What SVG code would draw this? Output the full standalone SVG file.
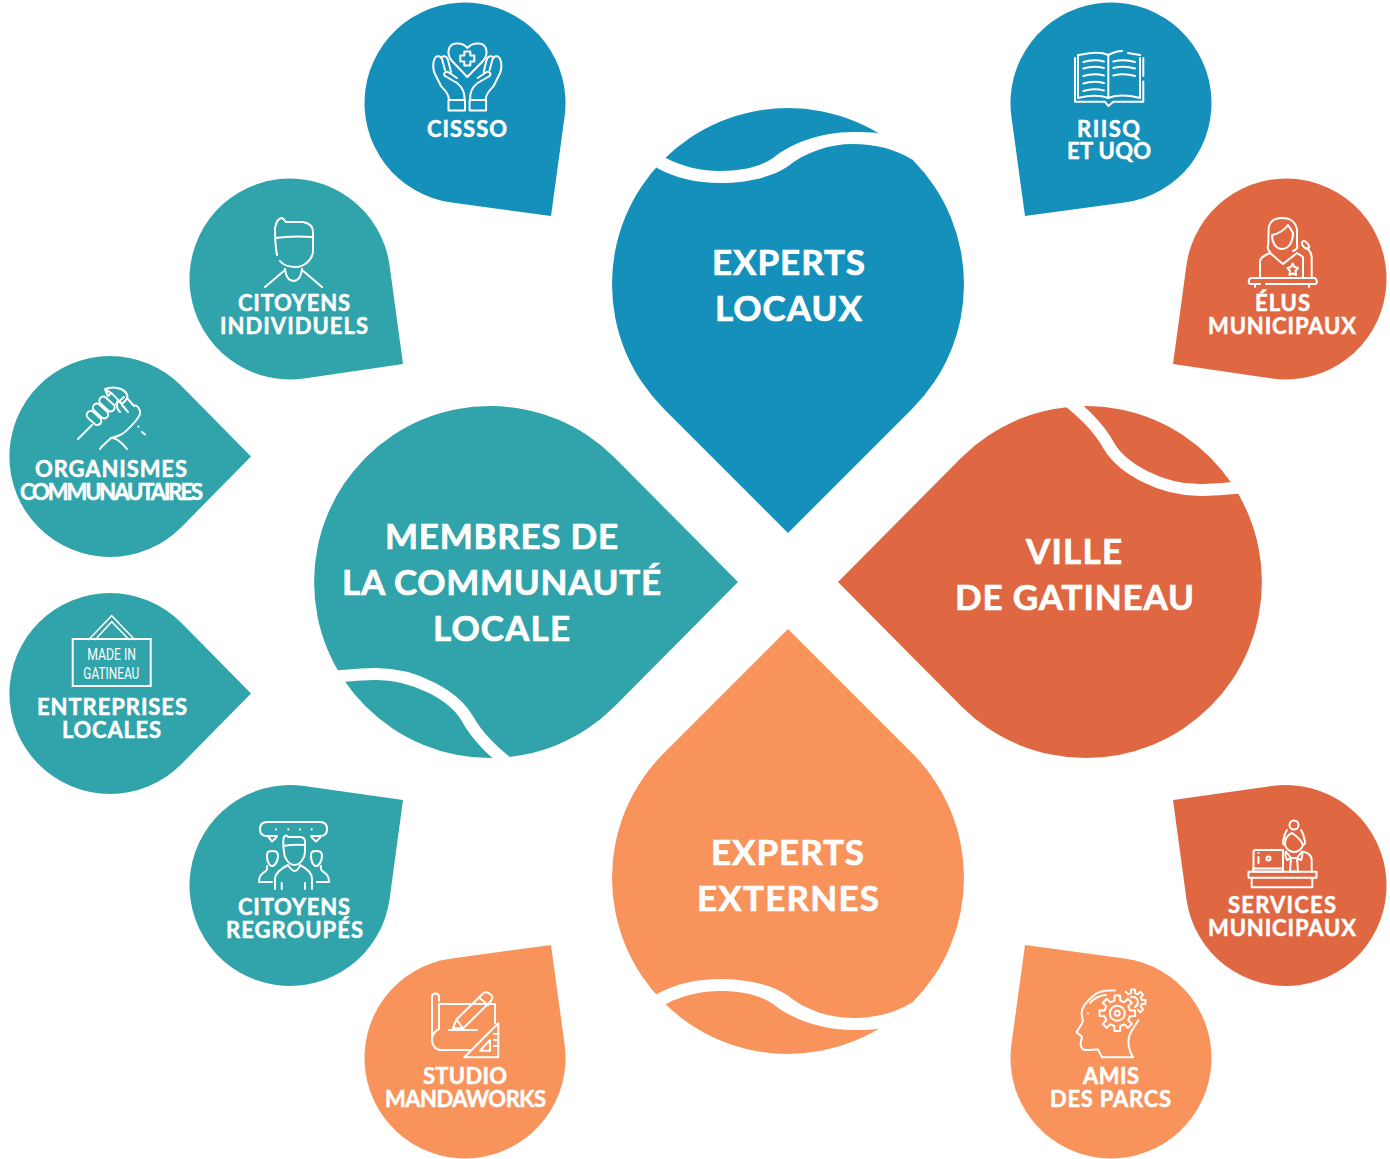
<svg xmlns="http://www.w3.org/2000/svg" width="1390" height="1159" viewBox="0 0 1390 1159">
<style>
.blue{fill:#1490bb}.teal{fill:#31a3aa}.red{fill:#df6842}.org{fill:#f8935c}
text{font-family:"Lato","Liberation Sans",sans-serif;font-weight:700;fill:#fff}
.big{font-size:35px;stroke:#fff;stroke-width:.7}
.sm{font-size:22px;stroke:#fff;stroke-width:.5}
.nar{font-family:"Liberation Sans Narrow","Roboto","Liberation Sans",sans-serif;font-weight:400;font-size:16.500px}
.sw{fill:none;stroke:#fff;stroke-width:12}
.swf{fill:#fff}
.ic{fill:none;stroke:#fff;stroke-width:2;stroke-linecap:round;stroke-linejoin:round}
</style>
<defs>
<path id="gear" d="M12.67-2.92L17.78-2.82L17.78 2.82L12.67 2.92L11.02 6.89L14.56 10.58L10.58 14.56L6.89 11.02L2.92 12.67L2.82 17.78L-2.82 17.78L-2.92 12.67L-6.89 11.02L-10.58 14.56L-14.56 10.58L-11.02 6.89L-12.67 2.92L-17.78 2.82L-17.78-2.82L-12.67-2.92L-11.02-6.89L-14.56-10.58L-10.58-14.56L-6.89-11.02L-2.92-12.67L-2.82-17.78L2.82-17.78L2.92-12.67L6.89-11.02L10.58-14.56L14.56-10.58L11.02-6.89Z"/>
<path id="hand" d="M449 100C449 93 444 90 441 86L435 74C433 70 433 66 433.500 62L435 58C437 55 441 56 442 59L445 70M441 58C443 55 447 56 448 60L451 72M445 76L457 83C461 86 465 90 464.500 100M445 76C443 74 445 71 448 72L457 78M448.500 100H465V110.500H448.500Z"/>
</defs>
<g id="connectors"></g>

<g id="experts-locaux">
<path class="blue" d="M788 533L664 409A176 176 0 1 1 912 409Z"/>
<path class="swf" d="M666 158C683 167 702 171 720 171C742 171 760 167 773 158C790 144 820 132 853 132C862 132 870 132 878 133L920 150L912 159.500C895 149 875 144 853 144C830 144 805 152 787 167C770 178 745 183 720 183C697 183 675 178 657 168L650 160Z"/>
<text class="big" x="712" y="275" textLength="153">EXPERTS</text>
<text class="big" x="715" y="321" textLength="147">LOCAUX</text>
</g>
<g id="membres-communaute">
<path class="teal" d="M738 582L615 706A176 176 0 1 1 615 458Z"/>
<path class="sw" d="M331 677C351 675 361 674 376 674C416 674 454 696 467 718C478 738 494 752 511 766"/>
<text class="big" x="385" y="549" textLength="233">MEMBRES DE</text>
<text class="big" x="342" y="595" textLength="319">LA COMMUNAUTÉ</text>
<text class="big" x="433" y="641" textLength="137">LOCALE</text>
</g>
<g id="ville-gatineau">
<path class="red" d="M838 582L961 458A176 176 0 1 1 961 706Z"/>
<path class="sw" d="M1065 398C1082 412 1098 426 1109 446C1122 468 1160 490 1200 490C1215 490 1225 489 1245 487"/>
<text class="big" x="1026" y="564" textLength="96">VILLE</text>
<text class="big" x="955" y="610" textLength="239">DE GATINEAU</text>
</g>
<g id="experts-externes">
<path class="org" d="M788 629L664 753A176 176 0 1 0 912 753Z"/>
<path class="swf" d="M666 1004C683 995 702 991 720 991C742 991 760 995 773 1004C790 1018 820 1030 853 1030C862 1030 870 1030 878 1029L920 1012L912 1002.500C895 1013 875 1018 853 1018C830 1018 805 1010 787 995C770 984 745 979 720 979C697 979 675 984 657 994L650 1002Z"/>
<text class="big" x="711" y="865" textLength="153">EXPERTS</text>
<text class="big" x="697" y="911" textLength="182">EXTERNES</text>
</g>

<g id="cissso">
<path class="blue" d="M551 216L451.500 202.600A100.500 100.500 0 1 1 564.600 116.500Z"/>
<g class="ic">
<path d="M467.300 77L452 61C446 54 448 44 456 43.500C461 43 465 45 467.300 48C470 45 474 43 479 43.500C487 44 489 54 483 61Z"/>
<path d="M464.300 51.500H470.300V55.500H474.300V61.500H470.300V65.500H464.300V61.500H460.300V55.500H464.300Z"/>
<use href="#hand"/>
<use href="#hand" transform="matrix(-1 0 0 1 934.600 0)"/>
</g>
<text class="sm" x="427" y="137" textLength="80">CISSSO</text>
</g>
<g id="riisq-uqo">
<path class="blue" d="M1025 216L1124.500 202.600A100.500 100.500 0 1 0 1011.400 116.500Z"/>
<g class="ic">
<path d="M1143.300 81.500V101.700H1113.300L1108.300 106L1105 101.700H1075V58M1143.300 58V76"/>
<path d="M1108.300 55C1100 51 1090 53 1078 55V98C1090 95 1100 95 1108.300 98C1116 95 1128 95 1140 98V58M1108.300 55C1114 52 1120 51 1122 51M1128 53L1140 55M1108.300 55V98"/>
<path d="M1083.300 62C1090 60 1098 60 1104 61.500M1083.300 68.500C1090 66.500 1098 66.500 1104 68M1083.300 76C1090 74 1098 74 1104 75.500M1083.300 83.500C1090 81.500 1098 81.500 1104 83M1083.300 91C1090 89 1098 89 1104 90.500"/>
<path d="M1113.300 61.500C1120 60 1128 60 1135 62M1113.300 68C1120 66.500 1128 66.500 1135 68.500M1113.300 75.500C1120 74 1128 74 1135 76"/>
</g>
<text class="sm" x="1077" y="137" textLength="63">RIISQ</text>
<text class="sm" x="1067" y="159" textLength="84">ET UQO</text>
</g>
<g id="citoyens-individuels">
<path class="teal" d="M403 364L304.100 378.500A100.500 100.500 0 1 1 389.500 264.900Z"/>
<g class="ic">
<path d="M277 255C275 245 275 235 275 228C276 223 278 218 282 218C284 219 285 221 286 222H303C309 223 313 226 313 232V252C312 260 304 267 296 267C289 267 283 265 280 261M275 238C288 236 300 236 313 237"/>
<path d="M285 269C286 277 289 281 293.500 281C298 281 301 277 302 269M265 287L285 270M322 287L302 270"/>
</g>
<text class="sm" x="238" y="311" textLength="112">CITOYENS</text>
<text class="sm" x="220" y="334" textLength="148">INDIVIDUELS</text>
</g>
<g id="elus-municipaux">
<path class="red" d="M1173 364L1271.900 378.500A100.500 100.500 0 1 0 1186.500 264.900Z"/>
<g class="ic">
<path d="M1270 252C1268 250 1267 248 1268 246C1269 240 1268 232 1269 226C1271 220 1276 218 1282 218C1290 218 1296 222 1297 230C1297 236 1297 240 1297 245C1298 248 1296 250 1293 251"/>
<path d="M1272 235C1278 234 1285 230 1288 225C1290 228 1292 231 1293 233M1272 235C1272 243 1276 249 1282 249C1288 249 1293 243 1293 233"/>
<path d="M1260 277V262C1260 258 1263 256 1270 253L1283 264L1297 253L1303 257V277"/>
<path d="M1292.700 263.500L1294.500 267L1298 268L1295.500 271L1296 275L1292.700 273.500L1289.500 275L1290 271L1287.500 268L1291 267Z"/>
<path d="M1251 278H1315C1318 281 1317 284 1315 284H1266M1260 284H1251C1248 284 1248 279 1251 278M1255 284V287M1309 284V287"/>
<path d="M1311.700 277V258C1311.700 252 1309 250 1307 248"/>
<ellipse cx="1305.500" cy="245" rx="2.500" ry="4.500" transform="rotate(-40 1305.500 245)"/>
</g>
<text class="sm" x="1255" y="311" textLength="55">ÉLUS</text>
<text class="sm" x="1208" y="334" textLength="148">MUNICIPAUX</text>
</g>
<g id="organismes-communautaires">
<path class="teal" d="M251 456.500L181 527.500A100.500 100.500 0 1 1 181 385.500Z"/>
<g class="ic">
<path d="M78 439L92 425"/>
<rect x="-8.500" y="-4" width="17" height="8" rx="4" transform="translate(94 418) rotate(43)"/>
<rect x="-9" y="-4" width="18" height="8" rx="4" transform="translate(100.500 411) rotate(43)"/>
<rect x="-9" y="-4" width="18" height="8" rx="4" transform="translate(107 404) rotate(43)"/>
<path d="M105 389C110 387 116 387 121 389C127 392 129 396 126 400L122 404L118 400C115 396 112 393 105 389ZM105 389L108 396L111.500 393"/>
<path d="M116 404L124 397M122 405L128 412M127 398L134 406M134 406C137 404 141 410 140 414C138 420 124 434 120 435C116 437 114 437 111 438C107 442 103 445 100 449M113 438C118 439 123 444 127 449M118 400C116 404 116 408 120 412"/>
<path d="M138.500 426.500V426.700M142 432L145 434.500"/>
</g>
<text class="sm" x="35" y="477" textLength="152">ORGANISMES</text>
<text class="sm" x="20" y="500" textLength="183">COMMUNAUTAIRES</text>
</g>
<g id="entreprises-locales">
<path class="teal" d="M251 693.500L181 764.500A100.500 100.500 0 1 1 181 622.500Z"/>
<g class="ic" style="stroke-linecap:butt;stroke-linejoin:miter">
<rect x="72.700" y="639" width="78" height="47"/>
<path d="M88.300 640L111.700 615.700L135 640M95 640L111.700 621.700L129.300 640" stroke-width="1.500"/>
</g>
<text class="nar" x="87.300" y="659.500" textLength="48.700" lengthAdjust="spacingAndGlyphs">MADE IN</text>
<text class="nar" x="83.300" y="678.500" textLength="56" lengthAdjust="spacingAndGlyphs">GATINEAU</text>
<text class="sm" x="37" y="715" textLength="150">ENTREPRISES</text>
<text class="sm" x="62" y="738" textLength="99">LOCALES</text>
</g>
<g id="citoyens-regroupes">
<path class="teal" d="M403 800L389.500 899.600A100.500 100.500 0 1 1 304.100 786Z"/>
<g class="ic">
<path d="M277 836H267C262 836 260 833 260 829C260 825 262 822 267 822H320C325 822 327 825 327 829C327 833 325 836 320 836H311M277 836C276 838 274 840 272 841.500C271 840 269 838 268 836M311 836C312 838 314 840 316 841.500C318 840 320 838 321 836" />
<path d="M276 829.300V829.400M288.300 829.300V829.400M300 829.300V829.400M311.700 829.300V829.400"/>
<path d="M284 852C283 845 283 840 284 837C285 835 287 835 288 837H300C303 837 305 839 305 842V852C305 858 300 865 294.500 865C289 865 284 858 284 852M283.500 846C291 844.500 298 844.500 305 845"/>
<path d="M275 889V879C275 872 282 868 288 865C290 868 292 871 294.500 871C297 871 299 868 300 865C306 868 312 872 312 879V889M281.700 883V889M305 883V889"/>
<path d="M267 856C267 851 269 851 272 851C275 851 278 851 278 856C278 861 275 866 272 866C269 866 267 861 267 856M267 866C268 870 266 871 263 873C260 875 259 878 259 882H272"/>
<path d="M311 856C311 851 313 851 316 851C319 851 322 851 322 856C322 861 319 866 316 866C313 866 311 861 311 856M321 866C320 870 322 871 325 873C328 875 329 878 329 882H317"/>
</g>
<text class="sm" x="238" y="915" textLength="112">CITOYENS</text>
<text class="sm" x="226" y="938" textLength="137">REGROUPÉS</text>
</g>
<g id="services-municipaux">
<path class="red" d="M1173 800L1186.500 899.600A100.500 100.500 0 1 0 1271.900 786Z"/>
<g class="ic">
<circle cx="1294" cy="825" r="4.500"/>
<path d="M1287 830C1285 833 1284 835 1284 838C1282 842 1283 845 1285 845C1286 849 1290 852 1294 852C1298 852 1302 849 1303 845C1305 845 1306 842 1304 838C1304 835 1303 833 1301 830M1285 845C1285 838 1287 835 1292 833C1296 836 1300 838 1303 845"/>
<path d="M1253.500 868.500V852C1253.500 850 1255 850 1256 850H1283V868.500ZM1253 868.500H1283V871.500H1253ZM1258.500 853V853.100M1258.500 857V863"/>
<circle cx="1268.500" cy="858.500" r="2"/>
<path d="M1286 851.500L1291 858L1287 860M1286 851.500C1284.500 853 1286 858 1287 860M1302 851.500L1297 858L1301 860C1302 858 1303 853 1302 851.500M1291 858H1297L1298 871.500H1290ZM1302 851.500C1307 852 1311.700 855 1311.700 860V871.500"/>
<path d="M1248.500 871.700H1316.500V877.700H1248.500ZM1251.700 877.700H1312.300V887.300H1251.700Z"/>
</g>
<text class="sm" x="1228" y="913" textLength="108">SERVICES</text>
<text class="sm" x="1208" y="936" textLength="148">MUNICIPAUX</text>
</g>
<g id="studio-mandaworks">
<path class="org" d="M551 945L564.600 1044.500A100.500 100.500 0 1 1 451.500 958.400Z"/>
<g class="ic">
<path d="M439 1004H495V1023M439 1004V1029M432 1040C432 1035 435 1031 439 1029M432 1040V997C432 994 434 993.500 435.500 993.500C438 993.500 439 995 439 997V1001M432 1040C432 1046 436 1050 441 1050H471"/>
<path d="M453 1028L456.500 1019.500L483 993.500C486 991 490 993 492 996C493 998 492 1000 490 1002L463 1028.500ZM479 997.500L488 1005M456.500 1019.500L463 1028.500M449 1030H477"/>
<path d="M498.300 1023.300V1057.300H464.300ZM490 1040V1050.700H480ZM498.300 1034H494M498.300 1040H494M498.300 1046H494"/>
</g>
<text class="sm" x="423" y="1084" textLength="84">STUDIO</text>
<text class="sm" x="385" y="1107" textLength="161">MANDAWORKS</text>
</g>
<g id="amis-parcs">
<path class="org" d="M1025 945L1011.400 1044.500A100.500 100.500 0 1 0 1124.500 958.400Z"/>
<g class="ic">
<path d="M1115 990.500C1106 990 1098 991 1093 996C1086 1002 1081 1009 1081.700 1014C1082 1017 1083 1020 1082.700 1022L1076.700 1032C1077 1034 1081 1035 1082 1037L1080.500 1043C1081 1046 1081 1048 1083 1049.500C1087 1051 1094 1049 1098 1049.500L1102 1057.300H1133C1130 1052 1128 1046 1128.500 1040C1129 1032 1134 1028 1138.500 1020M1090 1003C1093 999 1100 995 1106 995M1088 1013.500V1013.600"/>
<use href="#gear" transform="translate(1117.300 1013.300)"/>
<circle cx="1117.300" cy="1013.300" r="7.500"/>
<circle cx="1117.300" cy="1013.300" r="2.500"/>
<path d="M1125.600 991.800L1128.200 994.300L1131 993.100V989.600H1135V993.100L1137.800 994.300L1140.400 991.800L1143.200 994.600L1140.700 997.200L1141.900 1000H1145.500V1004H1141.900L1140.700 1006.800L1143.200 1009.400L1140.400 1012.200L1137.800 1009.700M1131 997C1135 996 1138 999 1138 1002C1138 1004 1137 1006 1135 1007"/>
</g>
<text class="sm" x="1083" y="1084" textLength="56">AMIS</text>
<text class="sm" x="1050" y="1107" textLength="121">DES PARCS</text>
</g>
</svg>
